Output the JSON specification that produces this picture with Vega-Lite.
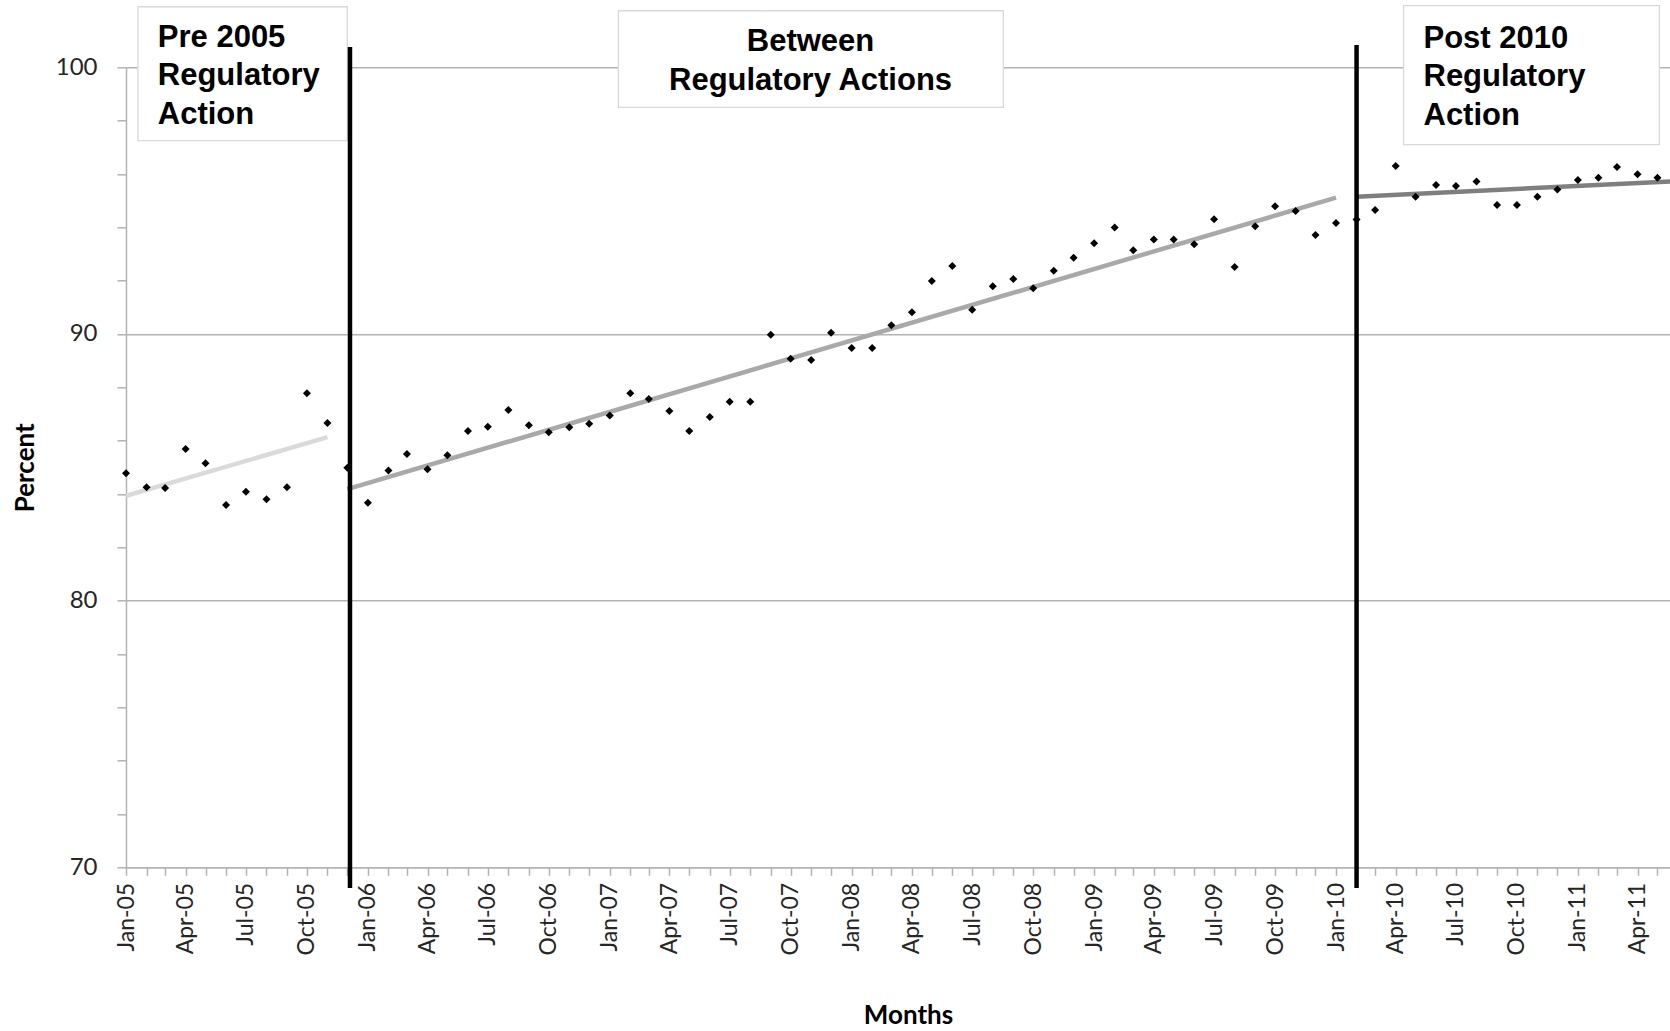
{
  "$schema": "https://vega.github.io/schema/vega-lite/v6.json",
  "width": 1544,
  "height": 800,
  "autosize": {"type": "none"},
  "padding": {"left": 126, "top": 67.3, "right": 0, "bottom": 163.7},
  "background": "white",
  "config": {"view": {"stroke": null}, "font": "Lato"},
  "encoding": {
    "x": {
      "field": "date",
      "type": "temporal",
      "scale": {"domain": [{"year": 2005, "month": 1, "date": 1}, {"year": 2011, "month": 5, "date": 20}], "nice": false},
      "axis": {
        "title": "Months",
        "tickCount": {"interval": "month", "step": 1},
        "labelExpr": "month(datum.value) % 3 == 0 ? timeFormat(datum.value, '%b-%y') : ''",
        "labelAngle": 270,
        "labelOverlap": false,
        "labelBound": false,
        "labelFlush": false,
        "labelFont": "Lato",
        "labelFontSize": 23,
        "labelColor": "#262626",
        "labelPadding": 7,
        "tickSize": 8,
        "tickColor": "#b3b3b3",
        "tickWidth": 1.5,
        "domainColor": "#b3b3b3",
        "domainWidth": 1.5,
        "grid": false,
        "titleFont": "Lato",
        "titleFontSize": 26,
        "titleFontWeight": "bold",
        "titleColor": "#000000",
        "titlePadding": 47,
        "titleX": 782
      }
    },
    "y": {
      "field": "value",
      "type": "quantitative",
      "scale": {"domain": [70, 100], "nice": false, "zero": false},
      "axis": {
        "title": "Percent",
        "values": [70, 72, 74, 76, 78, 80, 82, 84, 86, 88, 90, 92, 94, 96, 98, 100],
        "labelExpr": "datum.value % 10 == 0 ? datum.label : ''",
        "grid": true,
        "gridColor": "#b3b3b3",
        "gridWidth": 1.5,
        "gridOpacity": {"condition": {"test": "datum.value % 10 == 0", "value": 1}, "value": 0},
        "tickSize": 9,
        "tickColor": "#b3b3b3",
        "tickWidth": 1.5,
        "domainColor": "#b3b3b3",
        "domainWidth": 1.5,
        "labelFont": "Lato",
        "labelFontSize": 24,
        "labelColor": "#262626",
        "labelPadding": 20,
        "titleFont": "Lato",
        "titleFontSize": 26,
        "titleFontWeight": "bold",
        "titleColor": "#000000",
        "titlePadding": 17
      }
    }
  },
  "layer": [
    {
      "data": {
        "values": [
          {"box": "pre", "date": "2005-01-19", "date2": "2005-12-01", "value": 102.27, "value2": 97.25},
          {"box": "between", "date": "2007-01-14", "date2": "2008-08-17", "value": 102.12, "value2": 98.5},
          {"box": "post", "date": "2010-04-13", "date2": "2011-05-04", "value": 102.31, "value2": 97.1}
        ],
        "format": {"parse": {"date": "date:'%Y-%m-%d'", "date2": "date:'%Y-%m-%d'"}}
      },
      "mark": {"type": "rect", "fill": "white", "stroke": "#d9d9d9", "strokeWidth": 1.3},
      "encoding": {
        "x2": {"field": "date2"},
        "y2": {"field": "value2"}
      }
    },
    {
      "data": {
        "values": [
          {"seg": "pre", "date": "2005-01-01", "value": 83.93},
          {"seg": "pre", "date": "2005-11-01", "value": 86.13},
          {"seg": "between", "date": "2005-12-01", "value": 84.18},
          {"seg": "between", "date": "2010-01-01", "value": 95.11},
          {"seg": "post", "date": "2010-02-01", "value": 95.15},
          {"seg": "post", "date": "2011-06-01", "value": 95.73}
        ],
        "format": {"parse": {"date": "date:'%Y-%m-%d'"}}
      },
      "mark": {"type": "line", "strokeWidth": 4.5, "clip": true},
      "encoding": {
        "color": {"field": "seg", "type": "nominal", "scale": {"domain": ["pre", "between", "post"], "range": ["#dadada", "#a9a9a9", "#7f7f7f"]}, "legend": null}
      }
    },
    {
      "data": {
        "values": [
          {"date": "2005-01-01", "value": 84.78}, {"date": "2005-02-01", "value": 84.25}, {"date": "2005-03-01", "value": 84.22},
          {"date": "2005-04-01", "value": 85.69}, {"date": "2005-05-01", "value": 85.15}, {"date": "2005-06-01", "value": 83.59},
          {"date": "2005-07-01", "value": 84.08}, {"date": "2005-08-01", "value": 83.8}, {"date": "2005-09-01", "value": 84.25},
          {"date": "2005-10-01", "value": 87.78}, {"date": "2005-11-01", "value": 86.66}, {"date": "2005-12-01", "value": 84.98},
          {"date": "2006-01-01", "value": 83.67}, {"date": "2006-02-01", "value": 84.88}, {"date": "2006-03-01", "value": 85.5},
          {"date": "2006-04-01", "value": 84.93}, {"date": "2006-05-01", "value": 85.45}, {"date": "2006-06-01", "value": 86.36},
          {"date": "2006-07-01", "value": 86.52}, {"date": "2006-08-01", "value": 87.15}, {"date": "2006-09-01", "value": 86.58},
          {"date": "2006-10-01", "value": 86.31}, {"date": "2006-11-01", "value": 86.5}, {"date": "2006-12-01", "value": 86.63},
          {"date": "2007-01-01", "value": 86.94}, {"date": "2007-02-01", "value": 87.78}, {"date": "2007-03-01", "value": 87.56},
          {"date": "2007-04-01", "value": 87.11}, {"date": "2007-05-01", "value": 86.36}, {"date": "2007-06-01", "value": 86.89},
          {"date": "2007-07-01", "value": 87.46}, {"date": "2007-08-01", "value": 87.46}, {"date": "2007-09-01", "value": 89.97},
          {"date": "2007-10-01", "value": 89.07}, {"date": "2007-11-01", "value": 89.02}, {"date": "2007-12-01", "value": 90.05},
          {"date": "2008-01-01", "value": 89.47}, {"date": "2008-02-01", "value": 89.47}, {"date": "2008-03-01", "value": 90.33},
          {"date": "2008-04-01", "value": 90.81}, {"date": "2008-05-01", "value": 91.99}, {"date": "2008-06-01", "value": 92.55},
          {"date": "2008-07-01", "value": 90.91}, {"date": "2008-08-01", "value": 91.79}, {"date": "2008-09-01", "value": 92.06},
          {"date": "2008-10-01", "value": 91.71}, {"date": "2008-11-01", "value": 92.37}, {"date": "2008-12-01", "value": 92.86},
          {"date": "2009-01-01", "value": 93.4}, {"date": "2009-02-01", "value": 93.99}, {"date": "2009-03-01", "value": 93.14},
          {"date": "2009-04-01", "value": 93.54}, {"date": "2009-05-01", "value": 93.54}, {"date": "2009-06-01", "value": 93.36},
          {"date": "2009-07-01", "value": 94.3}, {"date": "2009-08-01", "value": 92.51}, {"date": "2009-09-01", "value": 94.04},
          {"date": "2009-10-01", "value": 94.79}, {"date": "2009-11-01", "value": 94.61}, {"date": "2009-12-01", "value": 93.71},
          {"date": "2010-01-01", "value": 94.16}, {"date": "2010-02-01", "value": 94.29}, {"date": "2010-03-01", "value": 94.65},
          {"date": "2010-04-01", "value": 96.3}, {"date": "2010-05-01", "value": 95.15}, {"date": "2010-06-01", "value": 95.59},
          {"date": "2010-07-01", "value": 95.55}, {"date": "2010-08-01", "value": 95.72}, {"date": "2010-09-01", "value": 94.84},
          {"date": "2010-10-01", "value": 94.84}, {"date": "2010-11-01", "value": 95.15}, {"date": "2010-12-01", "value": 95.42},
          {"date": "2011-01-01", "value": 95.77}, {"date": "2011-02-01", "value": 95.86}, {"date": "2011-03-01", "value": 96.26},
          {"date": "2011-04-01", "value": 95.99}, {"date": "2011-05-01", "value": 95.86}
        ],
        "format": {"parse": {"date": "date:'%Y-%m-%d'"}}
      },
      "mark": {"type": "point", "shape": "diamond", "filled": true, "color": "#000000", "size": 64, "opacity": 1}
    },
    {
      "data": {
        "values": [
          {"event": "2005 regulatory action", "date": "2005-12-05", "value": 100.76, "value2": 69.22},
          {"event": "2010 regulatory action", "date": "2010-02-01", "value": 100.84, "value2": 69.22}
        ],
        "format": {"parse": {"date": "date:'%Y-%m-%d'"}}
      },
      "mark": {"type": "rule", "color": "#000000", "strokeWidth": 4.5},
      "encoding": {
        "y2": {"field": "value2"}
      }
    },
    {
      "data": {
        "values": [
          {"label": ["Pre 2005", "Regulatory", "Action"], "date": "2005-02-18", "value": 100.78},
          {"label": ["Post 2010", "Regulatory", "Action"], "date": "2010-05-13", "value": 100.74}
        ],
        "format": {"parse": {"date": "date:'%Y-%m-%d'"}}
      },
      "mark": {"type": "text", "align": "left", "baseline": "alphabetic", "font": "Liberation Sans", "fontWeight": "bold", "fontSize": 31, "lineHeight": 38.5, "color": "#000000"},
      "encoding": {"text": {"field": "label"}}
    },
    {
      "data": {
        "values": [
          {"label": ["Between", "Regulatory Actions"], "date": "2007-10-31", "value": 100.6}
        ],
        "format": {"parse": {"date": "date:'%Y-%m-%d'"}}
      },
      "mark": {"type": "text", "align": "center", "baseline": "alphabetic", "font": "Liberation Sans", "fontWeight": "bold", "fontSize": 31, "lineHeight": 38.5, "color": "#000000"},
      "encoding": {"text": {"field": "label"}}
    }
  ]
}
